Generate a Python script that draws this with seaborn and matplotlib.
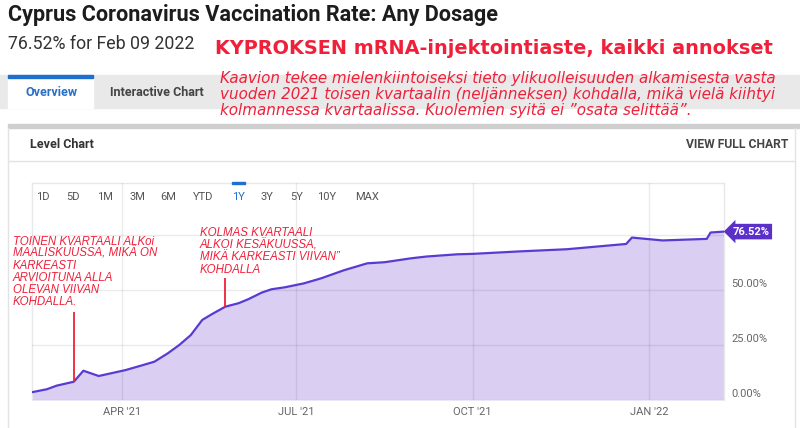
import matplotlib
matplotlib.use("Agg")
import matplotlib.pyplot as plt
import matplotlib.transforms as mtransforms
from matplotlib.patches import Rectangle
from matplotlib.lines import Line2D
import pandas as pd
import seaborn as sns

# --- data ---
dates = [
    "2021-02-13", "2021-02-21", "2021-02-26", "2021-03-07", "2021-03-12",
    "2021-03-20", "2021-04-03", "2021-04-11", "2021-04-18", "2021-04-25",
    "2021-05-01", "2021-05-07", "2021-05-13", "2021-05-18", "2021-05-25",
    "2021-06-01", "2021-06-06", "2021-06-13", "2021-06-18", "2021-06-25",
    "2021-07-05", "2021-07-14", "2021-07-26", "2021-08-07", "2021-08-16",
    "2021-08-30", "2021-09-07", "2021-09-23", "2021-10-01", "2021-10-25",
    "2021-11-19", "2021-12-20", "2021-12-23", "2022-01-08", "2022-01-31",
    "2022-02-02", "2022-02-09",
]
rates = [
    3.5, 4.9, 6.5, 8.3, 13.3,
    10.9, 13.6, 15.6, 17.4, 21.2,
    25.0, 29.5, 36.4, 39.0, 42.4,
    44.0, 45.8, 48.8, 50.3, 51.2,
    53.0, 55.3, 59.0, 62.1, 62.6,
    64.4, 65.2, 66.2, 66.4, 67.5,
    68.5, 70.9, 73.8, 72.5, 73.2,
    76.1, 76.52,
]

quarter_ticks = ["2021-04-01", "2021-07-01", "2021-10-01", "2022-01-01"]
quarter_labels = ["APR '21", "JUL '21", "OCT '21", "JAN '22"]
y_ticks = [0, 25, 50, 75]
y_tick_labels = ["0.00%", "25.00%", "50.00%", ""]
range_buttons = ["1D", "5D", "1M", "3M", "6M", "YTD", "1Y", "3Y", "5Y", "10Y", "MAX"]

title = "Cyprus Coronavirus Vaccination Rate: Any Dosage"
subtitle = "76.52% for Feb 09 2022"
red_heading = "KYPROKSEN mRNA-injektointiaste, kaikki annokset"
red_note = [
    "Kaavion tekee mielenkiintoiseksi tieto ylikuolleisuuden alkamisesta vasta",
    "vuoden 2021 toisen kvartaalin (neljänneksen) kohdalla, mikä vielä kiihtyi",
    "kolmannessa kvartaalissa. Kuolemien syitä ei \u201dosata selittää\u201d.",
]
note_q2 = ["TOINEN KVARTAALI ALKoi", "MAALISKUUSSA, MIKÄ ON", "KARKEASTI",
           "ARVIOITUNA ALLA", "OLEVAN VIIVAN", "KOHDALLA."]
note_q3 = ["KOLMAS KVARTAALI", "ALKOI KESÄKUUSSA,", "MIKÄ KARKEASTI VIIVAN\u201d",
           "KOHDALLA"]

df = pd.DataFrame({"date": pd.to_datetime(dates), "rate": rates})

# --- style ---
sns.set_theme(style="white")
plt.rcParams["font.family"] = ["Roboto", "DejaVu Sans"]

RED = "#f0203a"
LINE = "#5a3bd1"
FILL = "#dacff2"
W, H = 800, 428


def fx(x):
    return x / W


def fy(y):
    return 1 - y / H


fig = plt.figure(figsize=(8, 4.28), dpi=100)
fig.patch.set_facecolor("white")

# page chrome (tab bar, card borders)
fig.add_artist(Rectangle((0, fy(108)), 1, 33 / H, color="#e9e9e9", transform=fig.transFigure, zorder=0))
fig.add_artist(Rectangle((fx(8), fy(108)), 85 / W, 30 / H, color="white", transform=fig.transFigure, zorder=0))
fig.add_artist(Rectangle((fx(8), fy(78)), 85 / W, 3 / H, color="#1f6fd1", transform=fig.transFigure, zorder=1))
fig.add_artist(Rectangle((fx(8), fy(128)), 1, 4 / H, color="#cfcfcf", transform=fig.transFigure, zorder=1))
for xs, ys in [([fx(8), fx(8)], [fy(128), 0]), ([fx(795), fx(795)], [fy(128), 0]),
               ([fx(8), fx(795)], [fy(161), fy(161)])]:
    fig.add_artist(Line2D(xs, ys, color="#e3e3e3", lw=1, transform=fig.transFigure))

fig.text(fx(8), fy(21), title, fontsize=15.6, weight="bold", color="#1c1c1c", va="baseline")
fig.text(fx(8), fy(49), subtitle, fontsize=12.8, color="#333333", va="baseline")
fig.text(fx(215), fy(54), red_heading, fontsize=13.9, weight="bold", color=RED,
         va="baseline", family="DejaVu Sans")
for i, line in enumerate(red_note):
    fig.text(fx(220), fy(79 + 16 * i), line, fontsize=10.9, style="italic", color=RED,
             va="center", family="DejaVu Sans")

fig.text(fx(25), fy(92), "Overview", fontsize=9, weight="bold", color="#2a6fc9", va="center")
fig.text(fx(110), fy(92), "Interactive Chart", fontsize=9, weight="bold", color="#444444", va="center")
fig.text(fx(30), fy(144), "Level Chart", fontsize=9, weight="bold", color="#333333", va="center")
fig.text(fx(788), fy(144), "VIEW FULL CHART", fontsize=8.7, weight="bold", color="#444444",
         va="center", ha="right")

button_x = [43, 73, 105, 137, 168, 203, 238, 267, 297, 327, 367]
for bx, lab in zip(button_x, range_buttons):
    fig.text(fx(bx), fy(197), lab, fontsize=8, ha="center", va="center",
             color="#1f6fd1" if lab == "1Y" else "#555555")
fig.add_artist(Rectangle((fx(232), fy(184)), 13 / W, 2.5 / H, color="#1f6fd1", transform=fig.transFigure))

# --- chart ---
ax = fig.add_axes([fx(31.6), fy(400), (724 - 31.6) / W, (400 - 183) / H])
ax.fill_between(df["date"], df["rate"], 0, color=FILL, linewidth=0, zorder=1)
sns.lineplot(data=df, x="date", y="rate", ax=ax, color=LINE, linewidth=1.6, zorder=3)

ax.set_xlim(pd.Timestamp("2021-02-13"), pd.Timestamp("2022-02-09"))
ax.set_ylim(0, 98.6)
ax.set_xlabel("")
ax.set_ylabel("")

ax.set_xticks(pd.to_datetime(quarter_ticks))
ax.set_xticklabels(quarter_labels)
ax.set_yticks(y_ticks)
ax.set_yticklabels(y_tick_labels)
ax.yaxis.tick_right()
ax.tick_params(axis="both", length=0, labelsize=8, labelcolor="#666666")
ax.tick_params(axis="x", pad=5)
ax.tick_params(axis="y", pad=5)
shift = mtransforms.ScaledTranslation(0, 0.07, fig.dpi_scale_trans)
for lab in ax.get_yticklabels():
    lab.set_transform(lab.get_transform() + shift)

ax.set_axisbelow(False)
ax.grid(True, color="black", alpha=0.08, linewidth=1)
for side in ax.spines:
    ax.spines[side].set_color("#e8e8e8")
    ax.spines[side].set_linewidth(1)
ax.spines["bottom"].set_visible(False)

# latest value badge
badge_tr = mtransforms.blended_transform_factory(ax.transAxes, ax.transData)
ax.text(1.012, df["rate"].iloc[-1], f"{df['rate'].iloc[-1]:.2f}%", transform=badge_tr,
        ha="left", va="center", fontsize=8, weight="bold", color="white", clip_on=False,
        bbox=dict(boxstyle="larrow,pad=0.25", fc="#5b30c9", ec="none"))

# red annotations
anchor_q2 = pd.Timestamp("2021-03-07")
anchor_q3 = pd.Timestamp("2021-05-25")
ax.vlines(anchor_q2, df.loc[df["date"] == anchor_q2, "rate"].iloc[0], 40, color=RED, lw=1.3, zorder=4)
ax.vlines(anchor_q3, df.loc[df["date"] == anchor_q3, "rate"].iloc[0], 55.5, color=RED, lw=1.3, zorder=4)

ann_font = ["Liberation Sans", "DejaVu Sans"]
for i, line in enumerate(note_q2):
    fig.text(fx(13), fy(241.5 + 12.1 * i), line, fontsize=8.3, style="italic", color=RED,
             va="center", family=ann_font)
for i, line in enumerate(note_q3):
    fig.text(fx(200), fy(233 + 12.2 * i), line, fontsize=8.3, style="italic", color=RED,
             va="center", family=ann_font)

fig.savefig("out.png", dpi=100)
